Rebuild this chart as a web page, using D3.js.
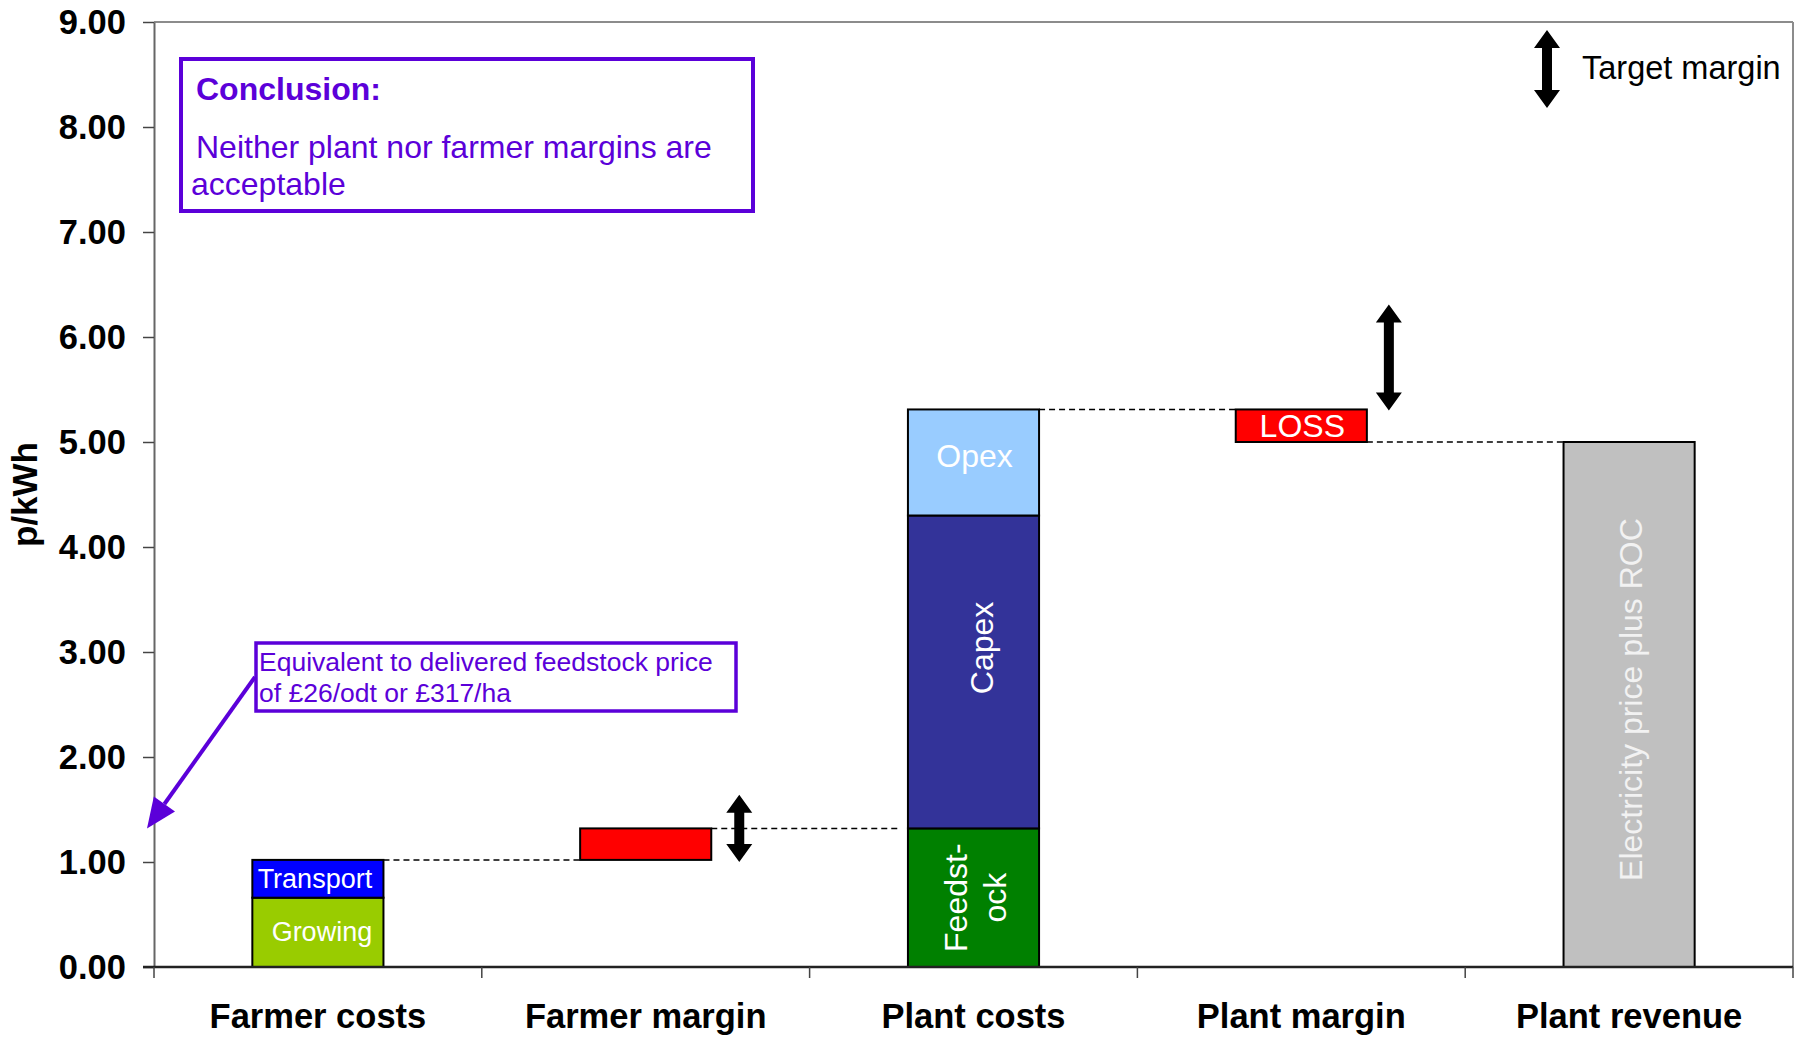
<!DOCTYPE html>
<html><head><meta charset="utf-8">
<script src="https://cdn.jsdelivr.net/npm/d3@7"></script>
<style>body{margin:0;background:#fff} svg{display:block} text{font-family:"Liberation Sans",Arial,Helvetica,sans-serif}</style>
</head><body><svg id="c" width="1800" height="1039"></svg>
<script>
const categories = ["Farmer costs","Farmer margin","Plant costs","Plant margin","Plant revenue"];
const farmerCostLabels = ["Growing","Transport"];
const farmerCostValues = [0.66, 0.36];
const farmerMarginValue = 0.30;
const plantCostLabels = ["Feedst-|ock","Capex","Opex"];
const plantCostValues = [1.32, 2.98, 1.01];
const plantMarginLabel = "LOSS";
const plantMarginValue = -0.31;
const plantRevenueLabel = "Electricity price plus ROC";
const plantRevenueValue = 5.00;
const farmerTargetMargin = [1.00, 1.64];
const plantTargetMargin = [5.30, 6.31];
const yTicks = [0,1,2,3,4,5,6,7,8,9];
const farmerColors = ["#99cc00","#0000ff"];
const plantColors = ["#008000","#333399","#99ccff"];
const purple = "#5b00d9";

const svg = d3.select("#c");
const X0 = 154, X1 = 1793, Y0 = 22, Y1 = 967;
const x = d3.scaleBand().domain(categories).range([X0, X1]).paddingInner(0).paddingOuter(0);
const y = d3.scaleLinear().domain([0, 9]).range([Y1, Y0]);
const bw = x.bandwidth();
const barW = bw * 0.4;
const bx = c => x(c) + bw / 2 - barW / 2;

// build waterfall segments
const segs = [];
let cum = 0;
farmerCostValues.forEach((v, i) => { segs.push({cat: categories[0], y0: cum, y1: cum + v, label: farmerCostLabels[i], color: farmerColors[i], rot: false}); cum += v; });
const farmerTotal = cum;
segs.push({cat: categories[1], y0: cum, y1: cum + farmerMarginValue, label: "", color: "#ff0000"});
cum += farmerMarginValue;
const feedLevel = cum;
let pc = 0;
plantCostValues.forEach((v, i) => { segs.push({cat: categories[2], y0: pc, y1: pc + v, label: plantCostLabels[i], color: plantColors[i], rot: i < 2}); pc += v; });
const plantTotal = pc;
segs.push({cat: categories[3], y0: pc + plantMarginValue, y1: pc, label: plantMarginLabel, color: "#ff0000", rot: false});
segs.push({cat: categories[4], y0: 0, y1: plantRevenueValue, label: plantRevenueLabel, color: "#c0c0c0", rot: true, light: true});

// frame
svg.append("line").attr("x1", X0).attr("x2", X1).attr("y1", Y0).attr("y2", Y0).attr("stroke", "#8c8c8c").attr("stroke-width", 2);
svg.append("line").attr("x1", X1).attr("x2", X1).attr("y1", Y0).attr("y2", Y1).attr("stroke", "#8c8c8c").attr("stroke-width", 2);

// connectors
const conns = [
  [0, 1, farmerTotal],
  [1, 2, feedLevel],
  [2, 3, plantTotal],
  [3, 4, plantTotal + plantMarginValue]
];
svg.append("g").selectAll("line").data(conns).join("line")
  .attr("x1", d => bx(categories[d[0]]) + barW)
  .attr("x2", d => bx(categories[d[1]]) - (d[1] === 2 ? 7 : 0))
  .attr("y1", d => y(d[2])).attr("y2", d => y(d[2]))
  .attr("stroke", "#000").attr("stroke-width", 1.5).attr("stroke-dasharray", "6,4");

// bars
svg.append("g").selectAll("rect").data(segs).join("rect")
  .attr("x", d => bx(d.cat)).attr("width", barW)
  .attr("y", d => y(d.y1)).attr("height", d => y(d.y0) - y(d.y1))
  .attr("fill", d => d.color).attr("stroke", "#000").attr("stroke-width", 2);

// labels
const lab = svg.append("g");
segs.filter(d => d.label).forEach(d => {
  const cx = x(d.cat) + bw / 2;
  let cy = (y(d.y0) + y(d.y1)) / 2;
  const small = d.cat === categories[0];
  const fs = small ? 27 : 32;
  const fill = d.light ? "#f2f2f2" : "#fff";
  if (d.rot) {
    const lines = d.label.split("|");
    if (d.label === "Capex") cy -= 24;
    if (d.light) cy -= 5;
    const g = lab.append("g").attr("transform", `translate(${cx + (d.label==="Capex"?8:2)},${cy}) rotate(-90)`);
    lines.forEach((t, i) => {
      g.append("text").attr("x", 0).attr("y", (i - (lines.length - 1) / 2) * 39)
        .attr("text-anchor", "middle").attr("dominant-baseline", "central")
        .attr("font-size", fs).attr("fill", fill).text(t);
    });
  } else {
    if (d.label === "Opex") cy -= 6;
    let dx = small ? (d.label === "Growing" ? 4 : -3) : 1;
    lab.append("text").attr("x", cx + dx).attr("y", cy)
      .attr("text-anchor", "middle").attr("dominant-baseline", "central")
      .attr("font-size", fs).attr("fill", fill).text(d.label);
  }
});

// y axis
const ya = svg.append("g").attr("transform", `translate(${X0},0)`)
  .call(d3.axisLeft(y).tickValues(yTicks).tickFormat(d3.format(".2f")).tickSize(11).tickSizeOuter(0).tickPadding(17));
ya.select(".domain").attr("stroke", "#666").attr("stroke-width", 2);
ya.selectAll(".tick line").attr("stroke", "#444").attr("stroke-width", 1.5);
ya.selectAll(".tick text").attr("font-size", 34.5).attr("font-weight", "bold").attr("fill", "#000")
  .attr("font-family", "'Liberation Sans',Arial,sans-serif");

// x axis
const xa = svg.append("g").attr("transform", `translate(0,${Y1})`)
  .call(d3.axisBottom(x).tickSize(0).tickPadding(37).tickSizeOuter(0));
xa.select(".domain").attr("stroke", "#222").attr("stroke-width", 2.5).attr("d", `M${X0 - 11},0H${X1}`);
xa.selectAll(".tick text").attr("font-size", 34.5).attr("font-weight", "bold").attr("fill", "#000")
  .attr("font-family", "'Liberation Sans',Arial,sans-serif");
const bounds = categories.map(c => x(c)).concat([X1]);
svg.append("g").selectAll("line").data(bounds).join("line")
  .attr("x1", d => d).attr("x2", d => d).attr("y1", Y1).attr("y2", Y1 + 11)
  .attr("stroke", "#444").attr("stroke-width", 1.5);

// axis title
svg.append("text").attr("transform", `translate(24,${(Y0 + Y1) / 2}) rotate(-90)`)
  .attr("text-anchor", "middle").attr("dominant-baseline", "central")
  .attr("font-size", 35).attr("font-weight", "bold").text("p/kWh");

// double arrows
function dArrow(cx, yt, yb) {
  const hl = 18, hw = 13, sw = 5;
  const pts = [[cx, yt], [cx + hw, yt + hl], [cx + sw, yt + hl], [cx + sw, yb - hl], [cx + hw, yb - hl], [cx, yb],
    [cx - hw, yb - hl], [cx - sw, yb - hl], [cx - sw, yt + hl], [cx - hw, yt + hl]];
  svg.append("polygon").attr("points", pts.map(p => p.join(",")).join(" ")).attr("fill", "#000");
}
dArrow(bx(categories[1]) + barW + 28, y(farmerTargetMargin[1]), y(farmerTargetMargin[0]));
dArrow(bx(categories[3]) + barW + 22, y(plantTargetMargin[1]), y(plantTargetMargin[0]));
// legend
dArrow(1547, 30, 108);
svg.append("text").attr("x", 1582).attr("y", 68).attr("dominant-baseline", "central")
  .attr("font-size", 32.5).attr("fill", "#000").text("Target margin");

// conclusion box
svg.append("rect").attr("x", 181).attr("y", 59).attr("width", 572).attr("height", 152)
  .attr("fill", "#fff").attr("stroke", purple).attr("stroke-width", 4);
svg.append("text").attr("x", 196).attr("y", 100).attr("font-size", 32).attr("font-weight", "bold").attr("fill", purple).text("Conclusion:");
svg.append("text").attr("x", 196).attr("y", 158).attr("font-size", 32).attr("fill", purple).text("Neither plant nor farmer margins are");
svg.append("text").attr("x", 191).attr("y", 195).attr("font-size", 32).attr("fill", purple).text("acceptable");

// equivalent box
svg.append("rect").attr("x", 256).attr("y", 643).attr("width", 480).attr("height", 68)
  .attr("fill", "#fff").attr("stroke", purple).attr("stroke-width", 3.5);
svg.append("text").attr("x", 259).attr("y", 671).attr("font-size", 26.5).attr("fill", purple).text("Equivalent to delivered feedstock price");
svg.append("text").attr("x", 259).attr("y", 702).attr("font-size", 26.5).attr("fill", purple).text("of £26/odt or £317/ha");

// pointer arrow
const sx = 255, sy = 677, tx = X0 - 7, ty = y(feedLevel);
const ang = Math.atan2(ty - sy, tx - sx);
const hl = 30, hw = 13;
const bxp = tx - hl * Math.cos(ang), byp = ty - hl * Math.sin(ang);
svg.append("line").attr("x1", sx).attr("y1", sy).attr("x2", bxp).attr("y2", byp).attr("stroke", purple).attr("stroke-width", 4);
svg.append("polygon").attr("points", [
  [tx, ty],
  [bxp + hw * Math.sin(ang), byp - hw * Math.cos(ang)],
  [bxp - hw * Math.sin(ang), byp + hw * Math.cos(ang)]
].map(p => p.join(",")).join(" ")).attr("fill", purple);
</script></body></html>
